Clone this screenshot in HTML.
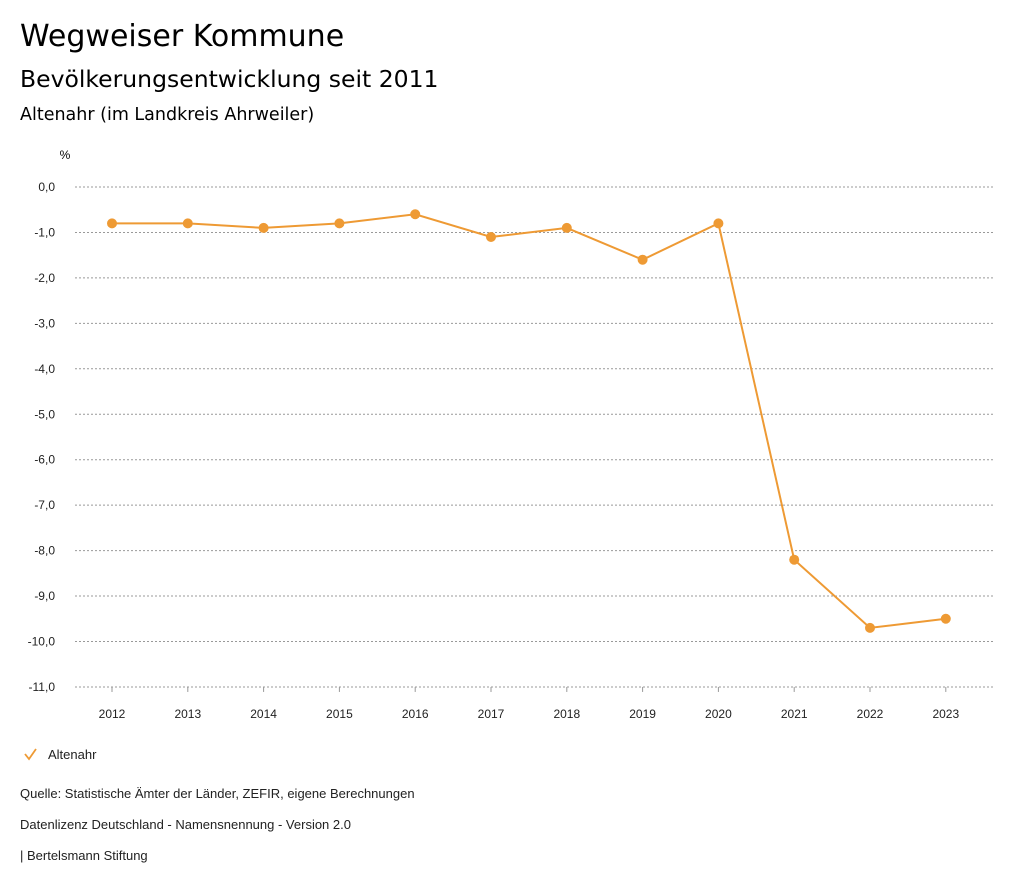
<!DOCTYPE html>
<html><head><meta charset="utf-8">
<style>
body{margin:0;width:1024px;height:888px;background:#fff;font-family:"Liberation Sans",sans-serif;color:#000;overflow:hidden}
.t1{position:absolute;left:20px;top:19px;font-size:30px;font-family:"DejaVu Sans",sans-serif}
.t2{position:absolute;left:20px;top:65px;font-size:23.5px;font-family:"DejaVu Sans",sans-serif}
.t3{position:absolute;left:20px;top:105px;font-size:17.5px;font-family:"DejaVu Sans",sans-serif}
.foot{position:absolute;left:20px;font-size:13px;color:#222}
</style></head><body>
<div class="t1">Wegweiser Kommune</div>
<div class="t2">Bevölkerungsentwicklung seit 2011</div>
<div class="t3">Altenahr (im Landkreis Ahrweiler)</div>
<svg id="chart" width="1024" height="888" style="position:absolute;left:0;top:0"></svg>
<div class="foot" style="top:786px">Quelle: Statistische Ämter der Länder, ZEFIR, eigene Berechnungen</div>
<div class="foot" style="top:817px">Datenlizenz Deutschland - Namensnennung - Version 2.0</div>
<div class="foot" style="top:848px">| Bertelsmann Stiftung</div>
<script>
const years=["2012","2013","2014","2015","2016","2017","2018","2019","2020","2021","2022","2023"];
const values=[-0.8,-0.8,-0.9,-0.8,-0.6,-1.1,-0.9,-1.6,-0.8,-8.2,-9.7,-9.5];
const yTicks=[0,-1,-2,-3,-4,-5,-6,-7,-8,-9,-10,-11];
const svg=document.getElementById('chart');
const NS='http://www.w3.org/2000/svg';
const y=v=>187-v*45.45;
const x=i=>112+i*75.8;
function mk(t,a){const e=document.createElementNS(NS,t);for(const k in a)e.setAttribute(k,a[k]);svg.appendChild(e);return e;}
let u=mk('text',{x:65,y:159,'font-size':12,'text-anchor':'middle'});u.textContent='%';


yTicks.forEach(v=>{
 const l=mk('line',{x1:75,x2:993,y1:y(v),y2:y(v),stroke:'#999','stroke-dasharray':'2,2','stroke-width':1});
 
 
 const t=mk('text',{x:55,y:y(v)+4,'font-size':12,'text-anchor':'end',fill:'#222'});
 t.textContent=v.toFixed(1).replace('.',',');
 
 
});
years.forEach((yr,i)=>{
 const k=mk('line',{x1:x(i),x2:x(i),y1:y(-11),y2:y(-11)+5,stroke:'#999'});
 
 
 const t=mk('text',{x:x(i),y:718,'font-size':12,'text-anchor':'middle',fill:'#222'});
 t.textContent=yr;
 
 
});
const p=mk('polyline',{points:values.map((v,i)=>x(i)+','+y(v)).join(' '),fill:'none',stroke:'#ee9a34','stroke-width':2});


values.forEach((v,i)=>{
 const c=mk('circle',{cx:x(i),cy:y(v),r:5,fill:'#ee9a34'});
 
 
});
const ck=mk('polyline',{points:'25,754 29,759 36,749',fill:'none',stroke:'#ee9a34','stroke-width':1.8});


const lt=mk('text',{x:48,y:759,'font-size':13,fill:'#222'});
lt.textContent='Altenahr';


</script>
</body></html>
